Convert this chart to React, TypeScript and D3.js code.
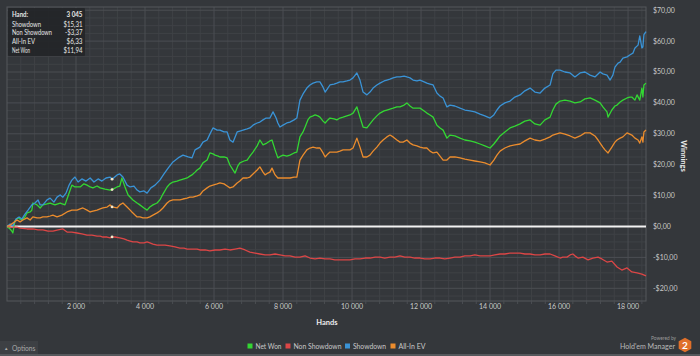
import React from 'react';
import * as d3 from 'd3';

// [hand, $]
const showdown: [number, number][] = [
  [0,0],[90,0.8],[170,0.2],[260,2.4],[350,3.1],[430,2.4],[520,4.0],[610,5.3],[720,7.0],[810,7.6],[900,8.6],[960,7.0],[1040,7.0],[1160,8.6],[1250,9.2],[1360,7.9],[1450,9.5],[1540,10.2],[1620,9.5],[1710,10.8],[1800,13.4],[1880,15.0],[1970,16.0],[2060,14.4],[2170,15.4],[2290,14.7],[2410,15.7],[2520,14.4],[2640,15.4],[2750,14.7],[2870,15.7],[2990,16.0],[3045,15.31],[3190,16.7],[3270,17.0],[3360,16.0],[3480,13.4],[3570,12.8],[3680,13.1],[3770,11.8],[3850,11.2],[3970,11.5],[4060,10.8],[4170,12.5],[4290,13.4],[4430,15.0],[4550,17.0],[4670,18.9],[4810,20.9],[4960,22.2],[5100,23.1],[5250,22.5],[5360,22.2],[5450,24.8],[5590,25.7],[5680,27.3],[5800,28.0],[5880,29.9],[5970,31.9],[6090,31.2],[6170,31.2],[6290,30.6],[6380,30.6],[6460,28.0],[6550,27.3],[6670,30.6],[6750,30.9],[6840,31.2],[6960,31.6],[7040,31.9],[7130,32.8],[7250,33.5],[7330,33.8],[7420,34.5],[7510,35.1],[7620,35.1],[7710,37.1],[7800,35.1],[7850,33.5],[7910,32.2],[8000,32.8],[8110,33.5],[8200,33.8],[8320,34.5],[8400,35.1],[8490,40.9],[8580,42.9],[8690,44.8],[8780,45.8],[8870,46.4],[8980,46.8],[9070,46.8],[9160,45.1],[9220,43.5],[9300,44.8],[9360,45.8],[9480,46.1],[9560,46.4],[9650,46.8],[9740,46.8],[9850,47.1],[9940,47.4],[10030,48.1],[10140,49.7],[10230,47.4],[10320,43.5],[10430,42.6],[10520,43.5],[10610,44.8],[10720,45.8],[10810,46.4],[10930,47.1],[11010,47.4],[11100,47.7],[11190,48.1],[11300,48.4],[11390,48.4],[11510,48.7],[11590,48.4],[11680,48.1],[11770,47.4],[11880,47.1],[11970,47.4],[12090,46.8],[12170,46.4],[12260,46.1],[12350,45.8],[12460,43.2],[12550,42.2],[12640,41.6],[12750,38.7],[12840,39.3],[12980,39.0],[13130,38.3],[13270,37.7],[13420,37.4],[13560,37.1],[13710,36.4],[13850,35.8],[14000,35.1],[14110,36.1],[14200,37.7],[14290,39.0],[14430,40.0],[14580,40.6],[14720,41.9],[14870,42.6],[15010,43.9],[15160,44.8],[15300,43.5],[15450,43.2],[15590,44.8],[15740,45.8],[15820,49.4],[15910,50.6],[16030,50.6],[16170,50.0],[16320,49.7],[16460,48.4],[16610,49.7],[16750,50.0],[16900,49.0],[17040,48.4],[17190,50.0],[17270,49.4],[17390,49.0],[17480,47.4],[17560,49.0],[17620,51.6],[17710,52.9],[17770,53.2],[17850,54.5],[17970,54.9],[18050,55.5],[18140,56.1],[18200,57.8],[18290,58.7],[18340,61.7],[18400,57.8],[18430,58.1],[18460,62.1],[18520,63.1]
];

const netWon: [number, number][] = [
  [0,0],[90,-0.8],[140,-1.5],[170,-2.1],[230,1.8],[320,2.8],[430,2.1],[520,3.1],[580,4.4],[670,4.7],[720,5.3],[750,7.6],[870,7.0],[960,6.0],[1040,7.0],[1160,7.3],[1250,7.6],[1390,7.0],[1540,7.6],[1680,7.0],[1770,9.9],[1880,13.4],[1970,12.8],[2120,12.8],[2230,13.8],[2320,13.4],[2410,12.8],[2490,12.5],[2610,13.1],[2700,12.5],[2840,12.1],[2990,11.8],[3045,11.94],[3190,12.8],[3270,13.1],[3330,15.7],[3420,12.8],[3510,10.2],[3650,8.6],[3770,7.6],[3850,7.0],[3970,6.0],[4060,5.3],[4140,6.3],[4230,7.0],[4350,7.6],[4430,8.6],[4520,10.5],[4640,12.8],[4720,13.8],[4810,14.4],[4930,14.7],[5010,15.0],[5130,15.4],[5220,15.7],[5300,16.3],[5360,16.7],[5450,17.6],[5510,18.3],[5590,18.9],[5680,20.6],[5800,21.5],[5880,23.8],[5970,23.5],[6030,23.1],[6120,22.8],[6170,22.5],[6290,22.5],[6380,22.2],[6460,19.9],[6550,18.3],[6610,17.3],[6690,19.6],[6750,20.6],[6870,21.2],[6960,21.5],[7040,22.8],[7130,24.1],[7250,26.1],[7330,28.0],[7420,26.4],[7530,27.0],[7620,27.7],[7680,28.0],[7770,24.8],[7850,22.2],[7940,22.8],[8000,23.1],[8110,22.8],[8200,23.1],[8320,23.8],[8400,24.1],[8490,29.0],[8580,30.6],[8640,32.2],[8720,34.5],[8780,35.4],[8870,35.8],[8930,36.1],[9010,35.8],[9070,35.4],[9160,34.1],[9220,33.5],[9300,34.5],[9360,35.1],[9480,34.8],[9560,34.5],[9650,35.1],[9740,35.4],[9850,35.8],[9940,36.1],[10030,36.7],[10140,38.7],[10230,35.4],[10320,32.2],[10430,31.9],[10520,33.2],[10610,34.5],[10720,35.8],[10810,36.7],[10930,37.4],[11010,37.7],[11100,38.0],[11190,38.3],[11300,38.7],[11390,38.7],[11510,39.3],[11590,40.0],[11680,39.0],[11770,38.3],[11880,38.3],[11970,38.3],[12090,37.4],[12170,36.7],[12260,36.1],[12350,35.4],[12460,32.8],[12550,31.9],[12640,31.2],[12750,28.6],[12840,29.6],[12980,29.3],[13130,28.6],[13270,28.0],[13420,27.7],[13560,27.3],[13710,26.7],[13850,26.1],[14000,25.4],[14110,26.7],[14200,28.0],[14290,29.3],[14430,30.6],[14580,31.9],[14720,32.5],[14870,33.2],[15010,34.1],[15160,34.5],[15300,33.2],[15450,32.8],[15590,34.5],[15740,35.4],[15820,37.7],[15910,39.6],[16030,40.6],[16170,40.9],[16320,40.6],[16460,40.0],[16610,40.3],[16750,41.3],[16900,41.6],[17040,40.9],[17190,40.0],[17270,38.7],[17390,37.1],[17420,35.4],[17530,37.7],[17620,39.0],[17680,39.3],[17770,40.3],[17850,40.9],[17970,41.6],[18050,41.9],[18110,41.9],[18200,40.9],[18260,42.6],[18340,40.9],[18400,44.8],[18430,41.9],[18460,45.8],[18520,46.4]
];

const allInEv: [number, number][] = [
  [0,0],[90,0.5],[170,1.1],[290,2.1],[380,1.5],[460,2.1],[580,2.8],[670,2.1],[750,3.1],[870,2.8],[960,2.8],[1040,3.1],[1160,3.1],[1250,3.4],[1330,3.7],[1450,3.1],[1590,3.7],[1740,4.7],[1880,5.3],[2030,5.3],[2120,5.7],[2200,6.0],[2320,5.3],[2410,4.7],[2490,5.0],[2610,5.3],[2700,5.7],[2780,6.0],[2900,6.3],[2990,7.0],[3045,6.33],[3190,6.0],[3270,7.0],[3360,7.6],[3480,6.3],[3570,5.3],[3620,4.7],[3710,3.7],[3770,3.1],[3850,3.1],[3940,2.8],[4060,2.8],[4140,3.1],[4230,3.7],[4350,4.4],[4430,5.0],[4520,6.0],[4640,7.6],[4720,8.3],[4810,8.6],[4930,8.6],[5010,8.6],[5100,8.9],[5220,9.2],[5300,9.5],[5390,9.5],[5510,9.9],[5590,10.2],[5680,11.5],[5800,12.5],[5880,13.1],[5970,13.4],[6090,13.8],[6170,14.1],[6290,13.8],[6380,13.1],[6460,12.5],[6550,12.8],[6670,14.1],[6750,14.7],[6840,15.7],[6960,15.7],[7040,16.0],[7130,17.0],[7250,18.3],[7330,19.3],[7420,17.6],[7480,16.7],[7560,17.3],[7620,17.6],[7680,18.9],[7770,16.7],[7850,15.7],[7940,15.7],[8030,15.7],[8110,15.7],[8200,15.7],[8320,16.0],[8400,16.0],[8490,21.5],[8580,23.1],[8690,24.8],[8780,25.4],[8870,25.7],[8980,25.4],[9070,25.4],[9160,23.8],[9220,22.5],[9300,23.5],[9360,24.1],[9480,24.1],[9560,24.1],[9650,24.4],[9740,24.8],[9850,24.8],[9940,24.8],[10030,25.4],[10140,28.6],[10230,25.7],[10320,22.5],[10430,22.5],[10520,23.1],[10610,24.4],[10720,25.7],[10810,27.0],[10900,28.0],[11010,29.0],[11100,29.6],[11190,29.0],[11300,28.0],[11390,27.3],[11480,27.3],[11590,28.0],[11680,27.0],[11770,26.4],[11880,26.1],[11970,25.7],[12090,25.4],[12170,25.4],[12260,24.4],[12350,23.8],[12460,24.1],[12550,22.8],[12640,21.5],[12750,21.5],[12840,22.5],[12980,22.5],[13130,22.2],[13270,21.8],[13420,21.5],[13560,21.2],[13710,20.9],[13850,20.6],[14000,19.9],[14110,21.5],[14200,23.1],[14290,24.4],[14430,25.4],[14580,26.1],[14720,26.4],[14870,26.7],[15010,27.7],[15160,28.6],[15300,28.0],[15450,27.7],[15590,28.3],[15740,29.0],[15820,29.6],[15910,29.9],[16030,30.3],[16170,29.9],[16320,29.3],[16460,28.6],[16610,29.3],[16750,30.3],[16900,30.3],[17040,29.3],[17130,28.0],[17190,27.0],[17270,25.7],[17330,24.8],[17420,23.8],[17530,25.7],[17620,27.3],[17680,28.0],[17770,28.6],[17850,29.0],[17970,30.3],[18050,29.9],[18110,29.6],[18200,28.6],[18290,28.0],[18340,27.0],[18400,29.0],[18430,27.3],[18460,30.6],[18520,31.2]
];

const nonShowdown: [number, number][] = [
  [0,0],[140,-0.2],[290,-0.2],[380,-0.5],[580,-0.8],[750,-0.8],[900,-1.1],[1040,-1.1],[1190,-1.5],[1330,-1.5],[1480,-1.1],[1620,-0.8],[1740,-1.8],[1880,-1.8],[2030,-2.1],[2170,-2.4],[2320,-2.8],[2460,-2.8],[2610,-3.1],[2700,-3.1],[2780,-3.4],[2900,-3.4],[2990,-3.7],[3045,-3.37],[3130,-3.4],[3270,-3.7],[3390,-4.0],[3480,-4.4],[3570,-4.7],[3650,-5.0],[3770,-5.0],[3850,-5.3],[3970,-5.3],[4060,-5.0],[4140,-5.3],[4230,-5.7],[4350,-6.0],[4430,-6.0],[4580,-6.0],[4720,-6.3],[4870,-6.6],[5010,-7.0],[5130,-7.0],[5220,-7.3],[5300,-7.3],[5390,-7.3],[5510,-7.3],[5590,-7.6],[5740,-7.6],[5880,-7.9],[6030,-7.6],[6170,-7.6],[6320,-7.3],[6460,-7.6],[6610,-7.3],[6750,-7.0],[6900,-7.6],[7040,-8.3],[7190,-8.6],[7330,-8.9],[7480,-9.2],[7620,-9.2],[7770,-8.9],[7910,-9.2],[8060,-9.5],[8200,-9.5],[8350,-9.9],[8490,-9.9],[8640,-9.5],[8780,-10.2],[8930,-10.5],[9070,-10.2],[9220,-10.5],[9360,-10.5],[9500,-10.8],[9650,-10.8],[9800,-10.8],[9940,-10.8],[10090,-10.5],[10230,-10.5],[10380,-10.2],[10520,-10.2],[10670,-9.9],[10810,-9.9],[10950,-10.2],[11100,-9.9],[11240,-9.9],[11390,-9.5],[11530,-9.9],[11680,-9.9],[11820,-10.2],[11970,-10.2],[12110,-10.5],[12260,-10.5],[12400,-10.2],[12550,-10.2],[12690,-10.5],[12840,-10.2],[12980,-9.9],[13130,-9.9],[13270,-9.5],[13420,-9.5],[13560,-9.2],[13710,-9.5],[13850,-9.5],[14000,-9.5],[14140,-9.2],[14290,-8.9],[14430,-8.9],[14580,-8.6],[14720,-8.6],[14870,-8.6],[15010,-8.9],[15160,-8.9],[15300,-9.2],[15450,-9.2],[15590,-8.9],[15740,-8.9],[15880,-9.5],[16030,-10.2],[16110,-9.9],[16230,-9.9],[16320,-9.2],[16400,-8.9],[16460,-9.5],[16550,-10.2],[16690,-9.9],[16840,-10.8],[16980,-10.2],[17130,-9.9],[17240,-10.5],[17390,-11.5],[17530,-11.2],[17680,-13.1],[17820,-14.1],[17970,-13.4],[18110,-14.7],[18260,-15.0],[18400,-15.4],[18520,-16.0]
];

const handsMax = 18520;
const winMin = -24.11;
const winMax = 71.04;
const xMajorTicks = [2000, 4000, 6000, 8000, 10000, 12000, 14000, 16000, 18000];
const yMajorTicks = [-20, -10, 0, 10, 20, 30, 40, 50, 60, 70];
const hoverHand = 3045;
const tooltipRows: [string, string][] = [
  ['Hand:', '3 045'],
  ['Showdown', '$15,31'],
  ['Non Showdown', '-$3,37'],
  ['All-In EV', '$6,33'],
  ['Net Won', '$11,94'],
];
const hoverValues = [15.31, -3.37, 6.33, 11.94];

const COLORS = {
  netWon: '#33d633',
  nonShowdown: '#dc4646',
  showdown: '#3a93d6',
  allInEv: '#eb8c2d',
};

const legendItems = [
  { name: 'Net Won', color: COLORS.netWon },
  { name: 'Non Showdown', color: COLORS.nonShowdown },
  { name: 'Showdown', color: COLORS.showdown },
  { name: 'All-In EV', color: COLORS.allInEv },
];

const FONT = 'Lato, "Noto Sans", sans-serif';

const fmtHands = (v: number) => d3.format(',')(v).replace(/,/g, ' ');
const fmtMoney = (v: number) => (v < 0 ? '-$' : '$') + Math.abs(v).toFixed(2).replace('.', ',');

// layout helpers (widths measured on reference)
const legendLayout = [
  { x: 250, w: 26 },
  { x: 288, w: 48 },
  { x: 347.5, w: 33 },
  { x: 393, w: 27 },
];
const ttLabelW = [16, 29, 40, 23, 18];
const ttValueW = [16, 19, 17.5, 16, 19];

export default function App() {
  const W = 700, H = 356;
  const left = 7, right = 646, top = 7, bottom = 301;
  const x = d3.scaleLinear().domain([0, handsMax]).range([left, right]);
  const y = d3.scaleLinear().domain([winMin, winMax]).range([bottom, top]);
  const line = d3.line<[number, number]>().x(d => x(d[0])).y(d => y(d[1]));

  const xMinor = d3.range(400, handsMax, 400).filter(v => v % 2000 !== 0);
  const yMinor = d3.range(-22.5, winMax, 2.5).filter(v => Math.abs(v % 10) > 0.01);

  const series = [
    { data: netWon, color: COLORS.netWon },
    { data: nonShowdown, color: COLORS.nonShowdown },
    { data: showdown, color: COLORS.showdown },
    { data: allInEv, color: COLORS.allInEv },
  ];

  return (
    <svg width={W} height={H} style={{ position: 'absolute', left: 0, top: 0, display: 'block' }} fontFamily={FONT}>
      <rect x={0} y={0} width={W} height={H} fill="#34373b" />
      {xMinor.map(v => (
        <line key={'xm' + v} x1={x(v)} x2={x(v)} y1={top} y2={bottom} stroke="#3f4246" strokeWidth={1} />
      ))}
      {yMinor.map(v => (
        <line key={'ym' + v} x1={left} x2={right} y1={y(v)} y2={y(v)} stroke="#3f4246" strokeWidth={1} />
      ))}
      {xMajorTicks.map(v => (
        <line key={'xM' + v} x1={x(v)} x2={x(v)} y1={top} y2={bottom} stroke="#4b4e53" strokeWidth={1} />
      ))}
      {yMajorTicks.map(v => (
        <line key={'yM' + v} x1={left} x2={right} y1={y(v)} y2={y(v)} stroke="#4b4e53" strokeWidth={1} />
      ))}
      <rect x={left} y={top} width={right - left} height={bottom - top} fill="none" stroke="#55585d" strokeWidth={1} />
      {xMinor.concat(xMajorTicks).map(v => (
        <line key={'xt' + v} x1={x(v)} x2={x(v)} y1={bottom} y2={bottom + 3} stroke="#4b4e53" />
      ))}
      <line x1={left} x2={right} y1={y(0)} y2={y(0)} stroke="#f2f2f2" strokeWidth={2} />
      {series.map((s, i) => (
        <path key={i} d={line(s.data) || ''} fill="none" stroke={s.color} strokeWidth={1.3} strokeLinejoin="round" />
      ))}
      {hoverValues.map((v, i) => (
        <circle key={'hm' + i} cx={x(hoverHand)} cy={y(v)} r={1.4} fill="#f3e7c9" />
      ))}
      {xMajorTicks.map(v => (
        <text key={'xl' + v} x={x(v)} y={308.5} fontSize={7} fill="#c9c9c9" textAnchor="middle">{fmtHands(v)}</text>
      ))}
      <text x={327} y={324.5} fontSize={7.5} fontWeight="bold" fill="#ececec" textAnchor="middle">Hands</text>
      {yMajorTicks.map(v => (
        <text key={'yl' + v} x={653} y={y(v)} dy="0.35em" fontSize={7} fill="#c9c9c9">{fmtMoney(v)}</text>
      ))}
      <text transform="translate(681,156) rotate(90)" fontSize={7.5} fontWeight="bold" fill="#ececec" textAnchor="middle">Winnings</text>
      <rect x={8} y={8} width={77} height={48} fill="#232528" fillOpacity={0.92} rx={1} />
      {tooltipRows.map((r, i) => {
        const yy = i === 0 ? 17 : 26.7 + (i - 1) * 8.7;
        return (
          <g key={'tt' + i}>
            <text x={12} y={yy} fontSize={7} fill="#e6e6e6" fontWeight={i === 0 ? 700 : 400}
              textLength={ttLabelW[i]} lengthAdjust="spacingAndGlyphs">{r[0]}</text>
            <text x={82.5 - ttValueW[i]} y={yy} fontSize={7} fill="#e6e6e6" fontWeight={i === 0 ? 700 : 400}
              textLength={ttValueW[i]} lengthAdjust="spacingAndGlyphs">{r[1]}</text>
          </g>
        );
      })}
      <rect x={0} y={341} width={38} height={13} fill="#3d4044" />
      <text x={4} y={349.5} fontSize={4.5} fill="#aaa">▲</text>
      <text x={12} y={350.5} fontSize={7.3} fill="#a8a8a8" textLength={23.5} lengthAdjust="spacingAndGlyphs">Options</text>
      <rect x={0} y={354} width={W} height={2} fill="#55585c" />
      {legendItems.map((it, i) => (
        <g key={it.name}>
          <rect x={legendLayout[i].x - 2.5} y={343.5} width={5} height={5} fill={it.color} />
          <text x={legendLayout[i].x + 5.5} y={348.8} fontSize={7.5} fill="#c8c8c8"
            textLength={legendLayout[i].w} lengthAdjust="spacingAndGlyphs">{it.name}</text>
        </g>
      ))}
      <text x={676} y={340} fontSize={4.8} fill="#9a9a9a" textAnchor="end">Powered by</text>
      <text x={620} y={348.5} fontSize={7.6} fill="#b9b9b9" textLength={55} lengthAdjust="spacingAndGlyphs">Hold'em Manager</text>
      <polygon
        points={d3.range(6).map(k => {
          const a = Math.PI / 6 + (k * Math.PI) / 3;
          return `${685 + 7.3 * Math.cos(a)},${345 + 7.3 * Math.sin(a)}`;
        }).join(' ')}
        fill="#e0702a"
      />
      <text x={685} y={348.8} fontSize={10} fontWeight="bold" fill="#ffffff" textAnchor="middle">2</text>
    </svg>
  );
}
